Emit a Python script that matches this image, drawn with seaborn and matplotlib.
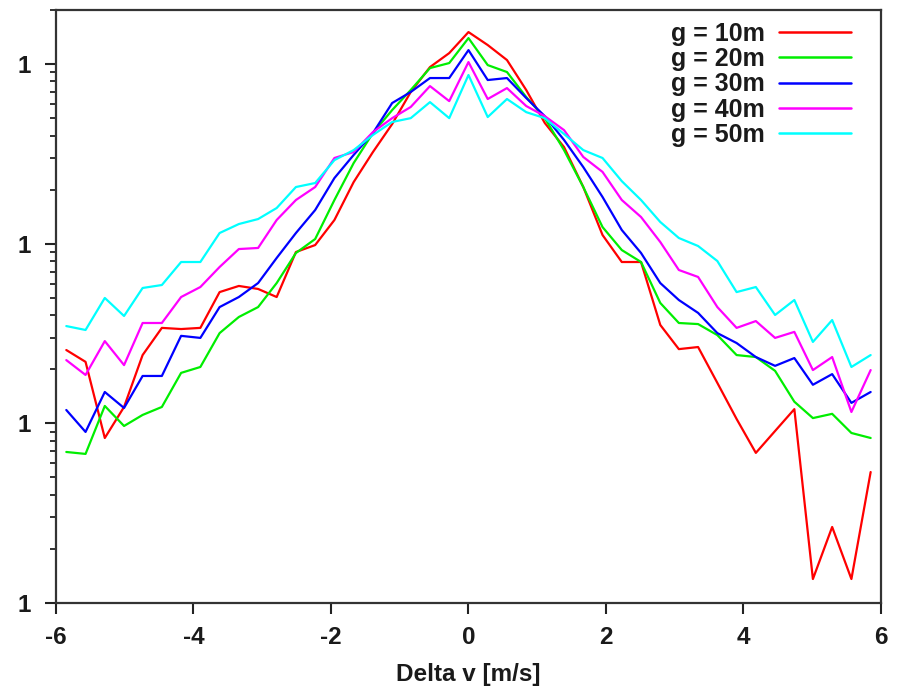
import numpy as np
import pandas as pd
import matplotlib
matplotlib.use("Agg")
import matplotlib.pyplot as plt
import matplotlib.ticker as mticker
import seaborn as sns

delta_v = [-5.85, -5.57, -5.29, -5.01, -4.74, -4.46, -4.18, -3.90, -3.62, -3.34,
           -3.06, -2.79, -2.51, -2.23, -1.95, -1.67, -1.39, -1.11, -0.84, -0.56,
           -0.28, 0.00, 0.28, 0.56, 0.84, 1.11, 1.39, 1.67, 1.95, 2.23,
           2.51, 2.79, 3.06, 3.34, 3.62, 3.90, 4.18, 4.46, 4.74, 5.01,
           5.29, 5.57, 5.85]

g10 = [0.0256, 0.0220, 0.00829, 0.01234, 0.0240, 0.0340, 0.0335, 0.0340, 0.0538, 0.0582,
       0.0560, 0.0505, 0.0899, 0.0983, 0.1355, 0.2204, 0.3238, 0.4636, 0.699, 0.962,
       1.151, 1.507, 1.276, 1.053, 0.717, 0.470, 0.345, 0.2068, 0.1118, 0.0791,
       0.0791, 0.0353, 0.0259, 0.0266, 0.0168, 0.01058, 0.00685, 0.00907, 0.0120, 0.00136,
       0.00265, 0.00136, 0.00536]
g20 = [0.00693, 0.00676, 0.0125, 0.00967, 0.01114, 0.01234, 0.0191, 0.0206, 0.0318, 0.0391,
       0.0444, 0.0604, 0.0888, 0.1062, 0.1751, 0.2812, 0.4130, 0.5546, 0.717, 0.950,
       1.013, 1.395, 0.987, 0.903, 0.655, 0.500, 0.332, 0.2068, 0.1238, 0.0922,
       0.0791, 0.0468, 0.0362, 0.0357, 0.0310, 0.0240, 0.0234, 0.0196, 0.0132, 0.0107,
       0.0113, 0.00884, 0.00829]
g30 = [0.01187, 0.00896, 0.01495, 0.01218, 0.01836, 0.01836, 0.0307, 0.0299, 0.0444, 0.0505,
       0.0604, 0.0833, 0.1147, 0.154, 0.232, 0.312, 0.413, 0.607, 0.699, 0.836,
       0.836, 1.196, 0.815, 0.836, 0.647, 0.513, 0.378, 0.267, 0.182, 0.1192,
       0.0888, 0.0604, 0.0486, 0.0412, 0.0318, 0.0280, 0.0234, 0.0209, 0.0231, 0.0164,
       0.0188, 0.0130, 0.01495]
g40 = [0.0225, 0.0186, 0.0287, 0.0211, 0.0362, 0.0362, 0.0505, 0.0574, 0.0742, 0.0934,
       0.0947, 0.1355, 0.1751, 0.2068, 0.300, 0.324, 0.418, 0.500, 0.577, 0.754,
       0.622, 1.026, 0.639, 0.735, 0.584, 0.513, 0.429, 0.304, 0.251, 0.1751,
       0.1408, 0.1022, 0.0714, 0.0653, 0.0444, 0.0340, 0.0371, 0.0299, 0.0323, 0.0198,
       0.0234, 0.01157, 0.0198]
g50 = [0.0348, 0.0331, 0.0499, 0.0396, 0.0567, 0.0589, 0.0791, 0.0791, 0.1147, 0.1287,
       0.1372, 0.158, 0.2068, 0.2177, 0.292, 0.332, 0.403, 0.476, 0.500, 0.614,
       0.500, 0.869, 0.507, 0.639, 0.540, 0.500, 0.408, 0.332, 0.300, 0.223,
       0.1751, 0.1321, 0.1076, 0.0971, 0.0801, 0.0538, 0.0574, 0.0401, 0.0486, 0.0284,
       0.0376, 0.0206, 0.0240]

series_names = ["g = 10m", "g = 20m", "g = 30m", "g = 40m", "g = 50m"]
series_values = [g10, g20, g30, g40, g50]
colors = ["#ff0000", "#00ee00", "#0000ff", "#ff00ff", "#00ffff"]
x_ticks = [-6, -4, -2, 0, 2, 4, 6]
y_ticks = [1e-3, 1e-2, 1e-1, 1e0]
y_tick_labels = ["1", "1", "1", "1"]
x_label = "Delta v [m/s]"

df = pd.concat([pd.DataFrame({"dv": delta_v, "p": vals, "series": name})
                for name, vals in zip(series_names, series_values)], ignore_index=True)

sns.set_style("white")
plt.rcParams["font.family"] = ["Liberation Sans", "DejaVu Sans"]
plt.rcParams["axes.unicode_minus"] = False

fig = plt.figure(figsize=(9.03, 6.89), dpi=100)
ax = fig.add_axes([0.062, 0.1248, 0.9136, 0.8607])

sns.lineplot(data=df, x="dv", y="p", hue="series", hue_order=series_names,
             palette=dict(zip(series_names, colors)), linewidth=1.6, ax=ax,
             legend=True, sort=False)

ax.set_yscale("log")
ax.set_xlim(-6, 6)
ax.set_ylim(1e-3, 2.0)
ax.set_xticks(x_ticks)
ax.set_xticklabels([str(t) for t in x_ticks])
ax.yaxis.set_major_locator(mticker.FixedLocator(y_ticks))
ax.yaxis.set_major_formatter(mticker.FixedFormatter(y_tick_labels))
ax.yaxis.set_minor_locator(mticker.LogLocator(base=10, subs=np.arange(2, 10)))
ax.yaxis.set_minor_formatter(mticker.NullFormatter())

ax.tick_params(axis="x", which="major", direction="out", length=8, width=1.5,
               labelsize=17.5, pad=8.5, colors="#222222", bottom=True, top=False)
ax.tick_params(axis="y", which="major", direction="out", length=8, width=1.5,
               labelsize=17.5, pad=10, colors="#222222", left=True, right=False)
ax.tick_params(axis="y", which="minor", direction="out", length=4, width=1.3,
               colors="#222222", left=True, right=False)
for lbl in ax.get_xticklabels() + ax.get_yticklabels():
    lbl.set_color("#1a1a1a")
    lbl.set_fontweight("bold")

for side in ["left", "bottom", "top", "right"]:
    ax.spines[side].set_visible(True)
    ax.spines[side].set_linewidth(1.6)
    ax.spines[side].set_color("#333333")

ax.set_xlabel(x_label, fontsize=17.5, fontweight="bold", color="#1a1a1a", labelpad=10)
ax.set_ylabel("")

handles, labels = ax.get_legend_handles_labels()
leg = ax.legend(handles, labels, loc="upper right", bbox_to_anchor=(0.9915, 1.018),
                frameon=False, markerfirst=False, handlelength=2.9, handletextpad=0.55,
                labelspacing=0.05,
                prop={"family": "Liberation Sans", "size": 18, "weight": "bold"})
for t in leg.get_texts():
    t.set_color("#1a1a1a")
for h in leg.get_lines():
    h.set_linewidth(1.8)

fig.savefig("out.png", dpi=100, facecolor="white")
